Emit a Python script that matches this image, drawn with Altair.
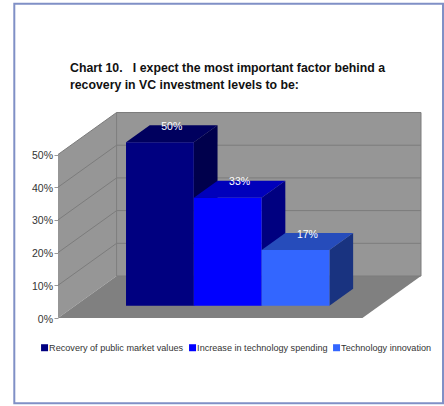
import altair as alt
import pandas as pd

series = ["Recovery of public market values", "Increase in technology spending", "Technology innovation"]
values = [50, 33, 17]
tick_levels = [0, 10, 20, 30, 40, 50]
front_colours = ["#000080", "#0000ff", "#3366ff"]
top_colours = ["#00005e", "#0000bb", "#264cbb"]
side_colours = ["#00004c", "#000080", "#193380"]

# Oblique projection: depth 0..1 slides a point right and up the value scale.
SHEAR_X = 0.864
SHEAR_Y = 12.84
FLOOR_W = 4.49
BAR_START = 0.75
DEPTH_FRONT = 0.293
DEPTH_BACK = 0.698
X_MAX = FLOOR_W + SHEAR_X
Y_MAX = 63

x_scale = alt.Scale(domain=[0, X_MAX], nice=False, zero=False)
y_scale = alt.Scale(domain=[0, Y_MAX], nice=False, zero=False)

value_axis = alt.Axis(
    title=None,
    values=tick_levels,
    labelExpr="datum.value + '%'",
    grid=False,
    domain=False,
    tickColor="#999999",
    tickSize=4,
    labelPadding=1.5,
    labelOffset=1,
    labelFont="Liberation Sans",
    labelFontSize=10.5,
    labelColor="#333333",
)
x_enc = alt.X("x:Q", scale=x_scale, axis=None)
y_enc = alt.Y("y:Q", scale=y_scale, axis=value_axis)


def project(slot, value, depth):
    return slot + depth * SHEAR_X, value + depth * SHEAR_Y


def face(points, colour):
    """Filled polygon given as (x, lower, upper) columns, x ascending."""
    frame = pd.DataFrame(points, columns=["x", "y", "y2"])
    return alt.Chart(frame).mark_area(color=colour, interpolate="linear").encode(x=x_enc, y=y_enc, y2="y2:Q")


def top_face(s0, s1, v, d0, d1, colour):
    ax, ay = project(s0, v, d0)
    bx, _ = project(s1, v, d0)
    cx, cy = project(s0, v, d1)
    dx, _ = project(s1, v, d1)
    return face([(ax, ay, ay), (cx, ay, cy), (bx, ay, cy), (dx, cy, cy)], colour)


def side_face(s, v0, v1, d0, d1, colour):
    ax, ay0 = project(s, v0, d0)
    _, ay1 = project(s, v1, d0)
    bx, by0 = project(s, v0, d1)
    _, by1 = project(s, v1, d1)
    return face([(ax, ay0, ay1), (bx, by0, by1)], colour)


layers = []

# Outer frame of the exhibit
layers.append(
    alt.Chart(pd.DataFrame({"k": [0]})).mark_rect(filled=False, stroke="#8090c6", strokeWidth=2).encode(
        x=alt.value(-43.7), x2=alt.value(385), y=alt.value(-108.3), y2=alt.value(291.3)
    )
)

# Back wall, left wall and floor
layers.append(face([(SHEAR_X, SHEAR_Y, Y_MAX - 0.16), (X_MAX, SHEAR_Y, Y_MAX - 0.16)], "#969696"))
layers.append(side_face(0, 0, 50, 0, 1, "#969696"))
fx0, fy0 = project(0, 0, 0)
fx1, fy1 = project(0, 0, 1)
fx2, _ = project(FLOOR_W, 0, 0)
fx3, _ = project(FLOOR_W, 0, 1)
layers.append(face([(fx0, fy0, fy0), (fx1, fy0, fy1), (fx2, fy0, fy1), (fx3, fy1, fy1)], "#808080"))

# Gridlines running along the left wall and across the back wall
grid_rows = []
for level in tick_levels:
    a = project(0, level, 0)
    b = project(0, level, 1)
    c = project(FLOOR_W, level, 1)
    if level:
        grid_rows += [dict(g=f"g{level}", x=a[0], y=a[1], o=0)]
    grid_rows += [dict(g=f"g{level}", x=b[0], y=b[1], o=1), dict(g=f"g{level}", x=c[0], y=c[1], o=2)]
corner = project(0, 0, 1)[0]
grid_rows += [
    dict(g="corner", x=corner, y=project(0, 0, 1)[1], o=0),
    dict(g="corner", x=corner, y=project(0, 50, 1)[1], o=1),
    dict(g="right", x=X_MAX, y=project(0, 0, 1)[1], o=0),
    dict(g="right", x=X_MAX, y=project(0, 50, 1)[1], o=1),
]
layers.append(
    alt.Chart(pd.DataFrame(grid_rows)).mark_line(color="#7c7c7c", strokeWidth=1).encode(
        x=x_enc,
        y=y_enc,
        detail="g:N",
        order="o:Q",
    )
)

# Depth faces of the bars, drawn back to front from left to right
for i, v in enumerate(values):
    s0 = BAR_START + i
    s1 = s0 + 1
    layers.append(side_face(s1, 0, v, DEPTH_FRONT, DEPTH_BACK, side_colours[i]))
    layers.append(top_face(s0, s1, v, DEPTH_FRONT, DEPTH_BACK, top_colours[i]))

# Front faces carry the legend
front_base = DEPTH_FRONT * SHEAR_Y
fronts = pd.DataFrame(
    {
        "series": series,
        "x": [project(BAR_START + i, 0, DEPTH_FRONT)[0] for i in range(3)],
        "x2": [project(BAR_START + i + 1, 0, DEPTH_FRONT)[0] for i in range(3)],
        "y": [v + front_base for v in values],
        "y2": [front_base] * 3,
    }
)
layers.append(
    alt.Chart(fronts).mark_rect().encode(
        x=x_enc,
        x2="x2:Q",
        y=y_enc,
        y2="y2:Q",
        color=alt.Color(
            "series:N",
            sort=series,
            scale=alt.Scale(domain=series, range=front_colours),
            legend=alt.Legend(
                title=None,
                orient="none",
                legendX=-18,
                legendY=231,
                direction="horizontal",
                columns=3,
                columnPadding=4,
                symbolType="square",
                symbolSize=49,
                symbolStrokeWidth=0,
                labelOffset=0,
                labelFont="Liberation Sans",
                labelFontSize=9.1,
                labelColor="#333333",
                labelLimit=200,
            ),
        ),
    )
)

# Value labels sitting on the top faces
labels = pd.DataFrame(
    {
        "text": [f"{v}%" for v in values],
        "x": [project(BAR_START + i + 0.5, 0, (DEPTH_FRONT + DEPTH_BACK) / 2)[0] for i in range(3)],
        "y": [project(0, v, DEPTH_BACK)[1] for v in values],
    }
)
layers.append(
    alt.Chart(labels).mark_text(
        color="#ffffff", font="Liberation Sans", fontSize=10.5, baseline="middle", align="center", dy=1.5
    ).encode(x=x_enc, y=y_enc, text="text:N")
)

chart = (
    alt.layer(*layers)
    .properties(
        width=363,
        height=206,
        padding={"left": 58, "top": 112, "right": 23, "bottom": 88},
        autosize=alt.AutoSizeParams(type="none"),
        background="#ffffff",
        title=alt.TitleParams(
            text=[
                "Chart 10.\u00a0\u00a0\u00a0I expect the most important factor behind a",
                "recovery in VC investment levels to be:",
            ],
            anchor="start",
            frame="group",
            dx=12,
            offset=-89,
            font="Liberation Sans",
            fontSize=12.3,
            fontWeight="bold",
            color="#111111",
            lineHeight=17,
        ),
    )
    .configure_view(stroke=None)
)

chart.save("out.html", embed_options={"renderer": "svg", "actions": False})
